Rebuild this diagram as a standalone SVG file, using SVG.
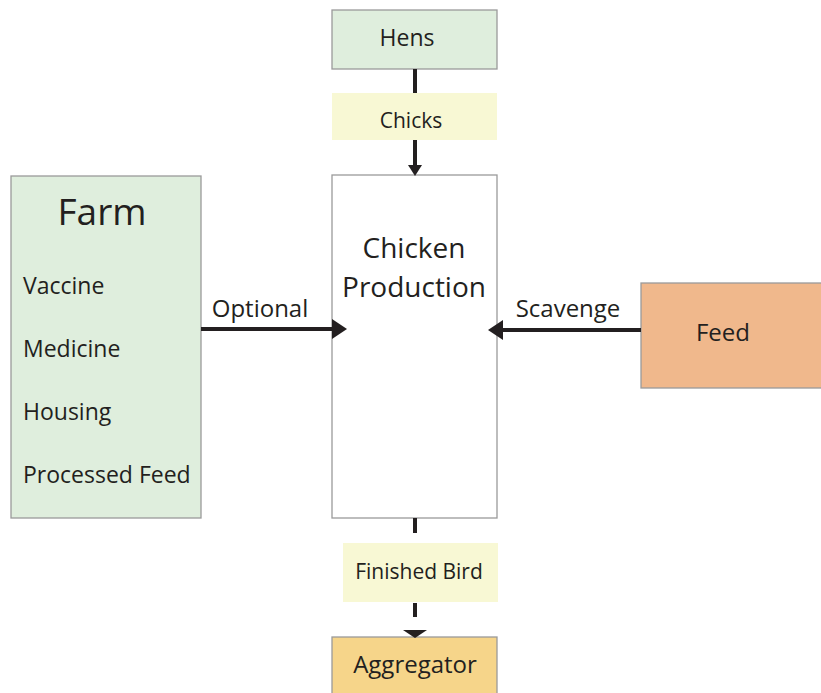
<svg xmlns="http://www.w3.org/2000/svg" width="821" height="693" viewBox="0 0 821 693">
<style>
.box{stroke:#9a9a9a;stroke-width:1.3}
.t{font-family:"Open Sans","Liberation Sans",sans-serif;fill:#231f20}
.c{stroke:#231f20;stroke-width:4;fill:none}
.ah{fill:#231f20}
</style>
<rect width="821" height="693" fill="#ffffff"/>
<g id="hens">
<rect class="box" x="332" y="10" width="165" height="59" fill="#dfeedd"/>
<text class="t" x="407" y="46" font-size="23" text-anchor="middle">Hens</text>
</g>
<g id="chicks">
<rect x="332" y="93" width="165" height="47" fill="#f8f8d4"/>
<text class="t" x="411" y="128" font-size="21" text-anchor="middle">Chicks</text>
</g>
<g id="production">
<rect class="box" x="332" y="175" width="165" height="343" fill="#ffffff"/>
<text class="t" x="414" y="258" font-size="28" text-anchor="middle">Chicken</text>
<text class="t" x="414" y="297" font-size="28" text-anchor="middle">Production</text>
</g>
<g id="farm">
<rect class="box" x="11" y="176" width="190" height="342" fill="#dfeedd"/>
<text class="t" x="102" y="225" font-size="37" text-anchor="middle">Farm</text>
<text class="t" x="23" y="294" font-size="23">Vaccine</text>
<text class="t" x="23" y="357" font-size="23">Medicine</text>
<text class="t" x="23" y="420" font-size="23">Housing</text>
<text class="t" x="23" y="483" font-size="23">Processed Feed</text>
</g>
<g id="feed">
<rect class="box" x="641" y="283" width="185" height="105" fill="#f0b88c"/>
<text class="t" x="723" y="341" font-size="24" text-anchor="middle">Feed</text>
</g>
<g id="finished">
<rect x="343" y="543" width="155" height="59" fill="#f8f8d4"/>
<text class="t" x="419" y="579" font-size="21" text-anchor="middle">Finished Bird</text>
</g>
<g id="aggregator">
<rect class="box" x="332" y="637" width="165" height="60" fill="#f6d58a"/>
<text class="t" x="415" y="673" font-size="24" text-anchor="middle">Aggregator</text>
</g>
<g id="connectors">
<line class="c" x1="415" y1="69" x2="415" y2="93" stroke-width="3.5"/>
<line class="c" x1="415" y1="140" x2="415" y2="166" stroke-width="3.5"/>
<polygon class="ah" points="408,165 422,165 415,176"/>
<text class="t" x="260" y="317" font-size="24" text-anchor="middle">Optional</text>
<line class="c" x1="201" y1="329" x2="333" y2="329"/>
<polygon class="ah" points="332,319 347,329 332,339"/>
<text class="t" x="568" y="317" font-size="24" text-anchor="middle">Scavenge</text>
<line class="c" x1="641" y1="330" x2="502" y2="330"/>
<polygon class="ah" points="503,320 488,330 503,340"/>
<line class="c" x1="415" y1="518" x2="415" y2="533" stroke-width="3.5"/>
<line class="c" x1="415" y1="603" x2="415" y2="617" stroke-width="3.5"/>
<polygon class="ah" points="403,630 427,630 415,638"/>
</g>
</svg>
